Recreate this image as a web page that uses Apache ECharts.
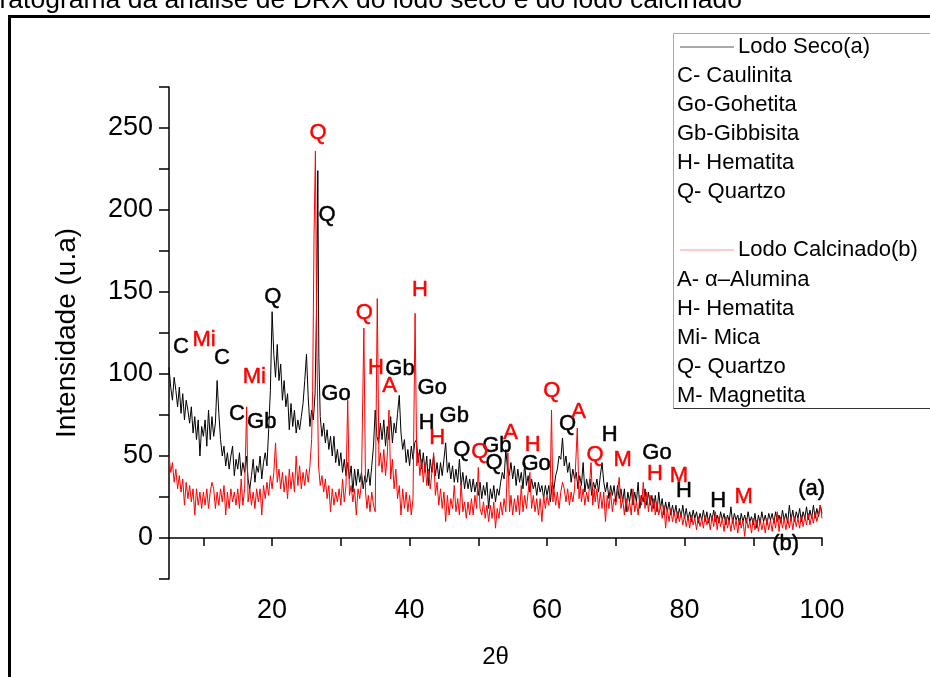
<!DOCTYPE html>
<html><head><meta charset="utf-8">
<script src="https://cdn.jsdelivr.net/npm/echarts@6/dist/echarts.min.js"></script>
<style>html,body{margin:0;padding:0;background:#fff}#c{width:930px;height:677px}</style>
</head><body><div id="c"></div>
<script>
const xTicks = [10,20,30,40,50,60,70,80,90,100];
const xLabels = [20,40,60,80,100];
const yTicks = [-25,0,25,50,75,100,125,150,175,200,225,250,275];
const yLabels = [0,50,100,150,200,250];

const lodoSeco = [
[5,104],[5.25,92],[5.5,84],[5.75,98],[6,90],[6.25,80],[6.5,92],[6.75,76],[7,88],[7.25,72],[7.5,84],[7.75,78],[8,70],[8.25,80],[8.5,64],[8.75,74],[9,60],[9.25,72],[9.5,50],[9.75,68],[10,62],[10.25,72],[10.5,56],[10.75,78],[11,60],[11.25,74],[11.5,62],[11.75,70],[12,96],[12.25,76],[12.5,60],[12.75,50],[13,56],[13.25,44],[13.5,52],[13.75,42],[14,50],[14.25,56],[14.5,38],[14.75,48],[15,42],[15.25,52],[15.5,38],[15.75,46],[16,40],[16.25,50],[16.5,36],[16.75,30],[17,38],[17.25,48],[17.5,34],[17.75,44],[18,40],[18.25,50],[18.5,36],[18.75,46],[19,52],[19.25,44],[19.5,66],[19.75,90],[20,138],[20.25,112],[20.5,98],[20.75,118],[21,96],[21.25,106],[21.5,84],[21.75,96],[22,80],[22.25,88],[22.5,66],[22.75,82],[23,68],[23.25,78],[23.5,64],[23.75,72],[24,66],[24.25,74],[24.5,82],[24.75,96],[25,112],[25.25,86],[25.5,68],[25.75,78],[26,72],[26.25,88],[26.5,150],[26.65,224],[26.8,110],[27,74],[27.25,62],[27.5,70],[27.75,58],[28,66],[28.25,54],[28.5,62],[28.75,50],[29,62],[29.25,46],[29.5,54],[29.75,44],[30,52],[30.25,40],[30.5,48],[30.75,38],[31,46],[31.25,36],[31.5,44],[31.75,28],[32,42],[32.25,32],[32.5,42],[32.75,34],[33,40],[33.25,30],[33.5,38],[33.75,34],[34,42],[34.25,32],[34.5,44],[34.75,56],[35,78],[35.25,62],[35.5,58],[35.75,70],[36,60],[36.25,72],[36.5,56],[36.75,68],[37,60],[37.25,74],[37.5,58],[37.75,70],[38,64],[38.25,76],[38.5,87],[38.75,64],[39,54],[39.25,60],[39.5,46],[39.75,54],[40,44],[40.25,56],[40.5,48],[40.75,58],[41,60],[41.25,46],[41.5,54],[41.75,42],[42,52],[42.25,40],[42.5,50],[42.75,32],[43,48],[43.25,40],[43.5,50],[43.75,38],[44,46],[44.25,36],[44.5,46],[44.75,38],[45,48],[45.25,58],[45.5,40],[45.75,46],[46,36],[46.25,44],[46.5,34],[46.75,42],[47,34],[47.25,48],[47.5,32],[47.75,40],[48,30],[48.25,38],[48.5,30],[48.75,36],[49,28],[49.25,36],[49.5,28],[49.75,34],[50,26],[50.25,34],[50.5,24],[50.75,32],[51,26],[51.25,34],[51.5,18],[51.75,30],[52,24],[52.25,32],[52.5,22],[52.75,30],[53,26],[53.25,34],[53.5,40],[53.75,36],[54,54],[54.25,42],[54.5,38],[54.75,46],[55,36],[55.25,44],[55.5,32],[55.75,42],[56,34],[56.25,40],[56.5,30],[56.75,46],[57,32],[57.25,38],[57.5,28],[57.75,36],[58,30],[58.25,34],[58.5,26],[58.75,34],[59,28],[59.25,32],[59.5,24],[59.75,32],[60,26],[60.25,32],[60.5,22],[60.75,34],[61,30],[61.25,38],[61.5,42],[61.75,50],[62,48],[62.25,61],[62.5,44],[62.75,50],[63,40],[63.25,46],[63.5,34],[63.75,42],[64,36],[64.25,40],[64.5,30],[64.75,38],[65,32],[65.25,46],[65.5,28],[65.75,36],[66,30],[66.25,36],[66.5,26],[66.75,34],[67,30],[67.25,36],[67.5,28],[67.75,38],[68,46],[68.25,34],[68.5,28],[68.75,34],[69,24],[69.25,32],[69.5,26],[69.75,32],[70,22],[70.25,32],[70.5,24],[70.75,30],[71,22],[71.25,30],[71.5,16],[71.75,28],[72,22],[72.25,30],[72.5,20],[72.75,28],[73,22],[73.25,34],[73.5,18],[73.75,26],[74,22],[74.25,30],[74.5,20],[74.75,28],[75,20],[75.25,26],[75.5,18],[75.75,26],[76,16],[76.25,28],[76.5,18],[76.75,24],[77,14],[77.25,22],[77.5,16],[77.75,22],[78,14],[78.25,20],[78.5,14],[78.75,20],[79,12],[79.25,18],[79.5,13],[79.75,20],[80,12],[80.25,18],[80.5,11],[80.75,16],[81,10],[81.25,17],[81.5,12],[81.75,16],[82,9],[82.25,15],[82.5,11],[82.75,17],[83,10],[83.25,16],[83.5,9],[83.75,15],[84,11],[84.25,17],[84.5,10],[84.75,14],[85,9],[85.25,16],[85.5,11],[85.75,15],[86,8],[86.25,14],[86.5,10],[86.75,19],[87,9],[87.25,15],[87.5,11],[87.75,14],[88,8],[88.25,15],[88.5,10],[88.75,14],[89,9],[89.25,16],[89.5,10],[89.75,13],[90,8],[90.25,15],[90.5,6],[90.75,14],[91,9],[91.25,16],[91.5,10],[91.75,14],[92,8],[92.25,15],[92.5,11],[92.75,15],[93,9],[93.25,16],[93.5,10],[93.75,14],[94,9],[94.25,17],[94.5,11],[94.75,15],[95,9],[95.25,20],[95.5,11],[95.75,17],[96,10],[96.25,16],[96.5,12],[96.75,18],[97,10],[97.25,16],[97.5,12],[97.75,19],[98,11],[98.25,17],[98.5,12],[98.75,20],[99,12],[99.25,18],[99.5,13],[99.75,20],[100,15]
];

const lodoCalcinado = [
[5,50],[5.25,40],[5.5,46],[5.75,34],[6,42],[6.25,30],[6.5,38],[6.75,28],[7,36],[7.25,20],[7.5,34],[7.75,24],[8,32],[8.25,22],[8.5,30],[8.75,14],[9,30],[9.25,20],[9.5,28],[9.75,18],[10,28],[10.25,20],[10.5,30],[10.75,18],[11,28],[11.25,34],[11.5,30],[11.75,18],[12,28],[12.25,20],[12.5,30],[12.75,22],[13,32],[13.25,14],[13.5,28],[13.75,18],[14,30],[14.25,22],[14.5,28],[14.75,20],[15,30],[15.25,18],[15.5,36],[15.75,20],[16,30],[16.3,80],[16.5,22],[16.75,30],[17,20],[17.25,28],[17.5,18],[17.75,30],[18,22],[18.25,30],[18.5,14],[18.75,32],[19,24],[19.25,34],[19.5,26],[19.75,38],[20,30],[20.25,40],[20.5,58],[20.75,34],[21,42],[21.25,30],[21.5,40],[21.75,28],[22,38],[22.25,24],[22.5,42],[22.75,30],[23,40],[23.25,28],[23.5,50],[23.75,32],[24,44],[24.25,30],[24.5,40],[24.75,32],[25,42],[25.25,34],[25.5,44],[25.75,60],[25.9,90],[26.1,185],[26.3,236],[26.5,120],[26.75,44],[27,32],[27.25,38],[27.5,28],[27.75,36],[28,24],[28.25,32],[28.5,16],[28.75,30],[29,20],[29.25,28],[29.5,22],[29.75,30],[30,20],[30.25,36],[30.5,22],[30.75,32],[31,84],[31.25,26],[31.5,32],[31.75,22],[32,30],[32.25,14],[32.5,30],[32.75,24],[33,34],[33.35,128],[33.6,28],[33.8,18],[34,26],[34.25,16],[34.5,28],[34.75,20],[35,16],[35.3,146],[35.55,44],[35.75,52],[36,40],[36.25,54],[36.5,38],[36.75,50],[37,78],[37.25,36],[37.5,48],[37.75,30],[38,42],[38.25,24],[38.5,32],[38.75,14],[39,30],[39.25,18],[39.5,28],[39.75,16],[40,26],[40.25,14],[40.5,24],[40.8,137],[41.05,44],[41.25,52],[41.5,38],[41.75,48],[42,34],[42.25,46],[42.5,32],[42.75,42],[43,30],[43.25,40],[43.5,52],[43.75,26],[44,34],[44.25,20],[44.5,30],[44.75,18],[45,28],[45.25,10],[45.5,26],[45.75,14],[46,24],[46.25,18],[46.5,32],[46.75,16],[47,24],[47.25,14],[47.5,34],[47.75,16],[48,22],[48.25,12],[48.5,22],[48.75,14],[49,24],[49.25,14],[49.5,26],[49.75,18],[50,43],[50.25,18],[50.5,14],[50.75,22],[51,12],[51.25,20],[51.5,10],[51.75,20],[52,12],[52.25,22],[52.5,6],[52.75,18],[53,12],[53.25,22],[53.5,14],[53.75,24],[54,16],[54.3,52],[54.55,16],[54.75,26],[55,14],[55.25,24],[55.5,16],[55.75,26],[56,14],[56.25,32],[56.5,16],[56.75,26],[57,18],[57.25,28],[57.5,40],[57.75,18],[58,26],[58.25,16],[58.5,24],[58.75,14],[59,24],[59.25,10],[59.5,26],[59.75,18],[60,26],[60.25,20],[60.45,30],[60.65,78],[60.85,22],[61,30],[61.25,20],[61.5,28],[61.75,18],[62,28],[62.25,34],[62.5,30],[62.75,22],[63,30],[63.25,20],[63.5,28],[63.75,22],[64,30],[64.4,67],[64.65,24],[64.85,32],[65,22],[65.25,30],[65.5,20],[65.75,28],[66,22],[66.4,46],[66.65,20],[66.85,30],[67,22],[67.25,30],[67.5,18],[67.75,28],[68,18],[68.25,28],[68.5,10],[68.75,26],[69,18],[69.25,28],[69.5,16],[69.75,24],[70,20],[70.25,28],[70.5,37],[70.75,18],[71,24],[71.25,14],[71.5,24],[71.75,16],[72,22],[72.25,14],[72.5,30],[72.75,16],[73,22],[73.25,14],[73.5,26],[73.75,20],[74,34],[74.25,18],[74.5,28],[74.75,16],[75,26],[75.25,16],[75.5,24],[75.75,14],[76,22],[76.25,14],[76.5,20],[76.75,12],[77,20],[77.25,6],[77.5,18],[77.75,10],[78,18],[78.25,10],[78.5,16],[78.75,9],[79,16],[79.25,10],[79.5,15],[79.75,8],[80,14],[80.25,7],[80.5,13],[80.75,6],[81,14],[81.25,8],[81.5,12],[81.75,5],[82,13],[82.25,7],[82.5,12],[82.75,6],[83,14],[83.25,8],[83.5,12],[83.75,5],[84,13],[84.25,7],[84.5,16],[84.75,5],[85,13],[85.25,7],[85.5,12],[85.75,4],[86,13],[86.25,6],[86.5,11],[86.75,4],[87,12],[87.25,5],[87.5,11],[87.75,3],[88,12],[88.25,6],[88.5,11],[88.75,1],[89,12],[89.25,6],[89.5,10],[89.75,3],[90,12],[90.25,5],[90.5,11],[90.75,4],[91,11],[91.25,5],[91.5,10],[91.75,3],[92,12],[92.25,5],[92.5,11],[92.75,4],[93,12],[93.25,6],[93.5,16],[93.75,4],[94,13],[94.25,6],[94.5,12],[94.75,5],[95,12],[95.25,6],[95.5,13],[95.75,5],[96,13],[96.25,7],[96.5,12],[96.75,6],[97,14],[97.25,7],[97.5,13],[97.75,8],[98,15],[98.25,8],[98.5,14],[98.75,9],[99,16],[99.25,10],[99.5,15],[99.75,20],[100,12]
];

const rotulosSeco = [
['C',6.75,116.5],['C',12.7,110],['C',14.9,75.6],['Gb',18.5,70.7],['Q',20.1,147],['Q',28,197],['Go',29.3,87.8],['Gb',38.6,103],['Go',43.3,91.5],['H',42.5,70],['Gb',46.5,74.4],['Q',47.6,53.7],['Q',52.3,45.7],['Gb',52.7,56],['Go',58.4,45],['Q',63,69.5],['H',69.1,62.8],['Go',76,51.8],['H',79.9,29],['H',84.9,22.5],['(a)',98.5,30],['(b)',94.7,-3.7]
];
const rotulosCalcinado = [
['Mi',10.1,120.7],['Mi',17.4,98],['Q',26.7,247],['Q',33.4,137],['H',35.1,103.7],['A',37.1,92.7],['H',41.5,151],['H',44,61],['Q',50.2,52.4],['A',54.7,64],['H',57.9,57],['Q',60.7,89.6],['A',64.6,76.8],['Q',67,50.6],['M',71,47.6],['H',75.7,39],['M',79.2,37.8],['M',88.6,25]
];

const legendSeco = ['C- Caulinita','Go-Gohetita','Gb-Gibbisita','H- Hematita','Q- Quartzo'];
const legendCalcinado = ['A- \u03b1\u2013Alumina','H- Hematita','Mi- Mica','Q- Quartzo','M- Magnetita'];

const FONT = '"Liberation Sans", Arial, sans-serif';
const chart = echarts.init(document.getElementById('c'));

function labelSeries(items, color) {
  return {
    type: 'scatter', symbolSize: 0, silent: true, z: 5,
    itemStyle: { color: color, opacity: 1 },
    data: items.map(r => ({ name: r[0], value: [r[1], r[2]] })),
    label: { show: true, position: 'inside', formatter: '{b}', color: color, opacity: 1,
      textBorderWidth: 0.5, textBorderColor: color,
      fontSize: 22, fontFamily: FONT }
  };
}

const graphics = [];
graphics.push({ type: 'rect', z: 0, shape: { x: 9.5, y: 16.5, width: 1000, height: 700 },
  style: { fill: null, stroke: '#000', lineWidth: 3 } });
graphics.push({ type: 'text', x: 742, y: 1, style: { text: 'Difratograma da análise de DRX do lodo seco e do lodo calcinado',
  font: '26.5px ' + FONT, fill: '#000', align: 'right', verticalAlign: 'middle' } });
graphics.push({ type: 'rect', z: 50, shape: { x: 673.5, y: 33.5, width: 300, height: 375 },
  style: { fill: '#fff', stroke: '#a8a8a8', lineWidth: 1 } });
graphics.push({ type: 'line', z: 51, shape: { x1: 673.5, y1: 408.5, x2: 930, y2: 408.5 }, style: { stroke: '#333', lineWidth: 1 } });
graphics.push({ type: 'line', z: 51, shape: { x1: 680, y1: 47, x2: 734, y2: 47 }, style: { stroke: '#555', lineWidth: 1 } });
graphics.push({ type: 'text', z: 51, x: 738, y: 47, style: { text: 'Lodo Seco(a)', font: '22px ' + FONT, fill: '#000', verticalAlign: 'middle' } });
legendSeco.forEach((t, i) => graphics.push({ type: 'text', z: 51, x: 677, y: 76 + i * 29,
  style: { text: t, font: '22px ' + FONT, fill: '#000', verticalAlign: 'middle' } }));
graphics.push({ type: 'line', z: 51, shape: { x1: 680, y1: 250, x2: 734, y2: 250 }, style: { stroke: '#ff9a9a', lineWidth: 1 } });
graphics.push({ type: 'text', z: 51, x: 738, y: 250, style: { text: 'Lodo Calcinado(b)', font: '22px ' + FONT, fill: '#000', verticalAlign: 'middle' } });
legendCalcinado.forEach((t, i) => graphics.push({ type: 'text', z: 51, x: 677, y: 280 + i * 29,
  style: { text: t, font: '22px ' + FONT, fill: '#000', verticalAlign: 'middle' } }));

chart.setOption({
  animation: false,
  backgroundColor: '#fff',
  grid: { left: 169, right: 108, top: 87, bottom: 98 },
  xAxis: {
    type: 'value', min: 5, max: 100,
    name: '2\u03b8', nameLocation: 'middle', nameGap: 66,
    nameTextStyle: { fontSize: 24, fontFamily: FONT, color: '#000' },
    axisLine: { lineStyle: { color: '#000', width: 1.5 } },
    axisTick: { show: true, inside: false, length: 8, customValues: xTicks, lineStyle: { color: '#000', width: 1.5 } },
    axisLabel: { customValues: xLabels, fontSize: 27, fontFamily: FONT, color: '#000', margin: 18 },
    splitLine: { show: false }
  },
  yAxis: {
    type: 'value', min: -25, max: 275,
    name: 'Intensidade (u.a)', nameLocation: 'middle', nameGap: 88,
    nameTextStyle: { fontSize: 28, fontFamily: FONT, color: '#000' },
    axisLine: { show: true, lineStyle: { color: '#000', width: 1.5 } },
    axisTick: { show: true, inside: false, length: 10, customValues: yTicks, lineStyle: { color: '#000', width: 1.5 } },
    axisLabel: { customValues: yLabels, fontSize: 27, fontFamily: FONT, color: '#000', margin: 16 },
    splitLine: { show: false }
  },
  graphic: graphics,
  series: [
    { name: 'Lodo Seco(a)', type: 'line', data: lodoSeco, showSymbol: false, symbol: 'none',
      lineStyle: { color: '#000', width: 1 }, itemStyle: { color: '#000' }, z: 2 },
    { name: 'Lodo Calcinado(b)', type: 'line', data: lodoCalcinado, showSymbol: false, symbol: 'none',
      lineStyle: { color: '#ff0000', width: 1 }, itemStyle: { color: '#ff0000' }, z: 3 },
    labelSeries(rotulosSeco, '#000'),
    labelSeries(rotulosCalcinado, '#ff0000')
  ]
});
</script></body></html>
